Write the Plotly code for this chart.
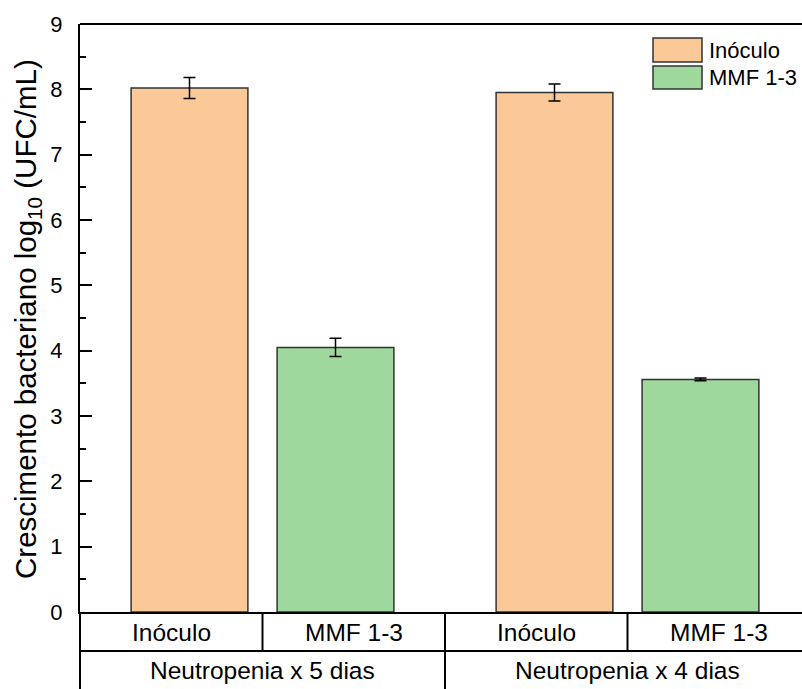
import plotly.graph_objects as go

groups = ["Neutropenia x 5 dias", "Neutropenia x 4 dias"]
series_names = ["Inóculo", "MMF 1-3"]
inoculo_vals = [8.02, 7.95]
inoculo_err = [0.16, 0.13]
mmf_vals = [4.05, 3.56]
mmf_err = [0.14, 0.02]
colors = ["#FBC898", "#9ED89C"]
yticks = [0, 1, 2, 3, 4, 5, 6, 7, 8, 9]

FONT = "Arial, Liberation Sans, sans-serif"
W, H = 802, 689
ML, MR, MT, MB = 80, 0, 24, 77
PW = W - ML - MR
PH = H - MT - MB
unit_px = 365.0
xr = [-0.5, -0.5 + PW / unit_px]

def px2py(py):
    return (H - MB - py) / PH

def px2px(px):
    return (px - ML) / PW

fig = go.Figure()
for name, vals, errs, col in [(series_names[0], inoculo_vals, inoculo_err, colors[0]),
                              (series_names[1], mmf_vals, mmf_err, colors[1])]:
    fig.add_trace(go.Bar(
        x=groups, y=vals, name=name, showlegend=False,
        marker=dict(color=col, line=dict(color="#333333", width=1.5)),
        error_y=dict(type="data", array=errs, visible=True, color="black",
                     thickness=1.5, width=6),
    ))

shapes = []
# top border
shapes.append(dict(type="line", xref="paper", yref="paper", x0=0, x1=1, y0=1, y1=1,
                   line=dict(color="black", width=2)))
row1 = px2py(651)
bottom = -0.2
# table lines
shapes.append(dict(type="line", xref="paper", yref="paper", x0=0, x1=1.02, y0=row1, y1=row1,
                   line=dict(color="black", width=2)))
shapes.append(dict(type="line", xref="paper", yref="paper", x0=0, x1=0, y0=0, y1=bottom,
                   line=dict(color="black", width=2)))
for gi in range(len(groups)):
    shapes.append(dict(type="line", xref="x", yref="paper", x0=gi, x1=gi, y0=0, y1=row1,
                       line=dict(color="black", width=2)))
    if gi > 0:
        shapes.append(dict(type="line", xref="x", yref="paper", x0=gi - 0.5, x1=gi - 0.5,
                           y0=0, y1=bottom, line=dict(color="black", width=2)))

annotations = []
for gi, g in enumerate(groups):
    for si, s in enumerate(series_names):
        annotations.append(dict(xref="x", yref="paper", x=gi - 0.25 + 0.5 * si,
                                y=px2py(632), text=s, showarrow=False,
                                font=dict(family=FONT, size=24.5, color="black"),
                                xanchor="center", yanchor="middle"))
    annotations.append(dict(xref="x", yref="paper", x=gi, y=px2py(670), text=g,
                            showarrow=False, font=dict(family=FONT, size=24.5, color="black"),
                            xanchor="center", yanchor="middle"))

# legend (manual)
leg_boxes = [(38, 62), (66, 89)]
for (y0, y1), s, col in zip(leg_boxes, series_names, colors):
    shapes.append(dict(type="rect", xref="paper", yref="paper",
                       x0=px2px(653), x1=px2px(702), y0=px2py(y1), y1=px2py(y0),
                       fillcolor=col, line=dict(color="#333333", width=1.5)))
    annotations.append(dict(xref="paper", yref="paper", x=px2px(707), y=px2py((y0 + y1) / 2),
                            text=s, showarrow=False, xanchor="left", yanchor="middle",
                            font=dict(family=FONT, size=22, color="black")))

# y title
annotations.append(dict(xref="paper", yref="paper", x=px2px(27), y=px2py(319),
                        text="Crescimento bacteriano log<sub>10</sub> (UFC/mL)",
                        textangle=-90, showarrow=False, xanchor="center", yanchor="middle",
                        font=dict(family=FONT, size=29.5, color="black")))

fig.update_layout(
    width=W, height=H, margin=dict(l=ML, r=MR, t=MT, b=MB),
    paper_bgcolor="white", plot_bgcolor="white",
    barmode="group", bargap=0.2, bargroupgap=0.2,
    shapes=shapes, annotations=annotations,
    font=dict(family=FONT, color="black"),
)
fig.update_xaxes(range=xr, showticklabels=False, ticks="", showline=True,
                 linecolor="black", linewidth=2, showgrid=False, zeroline=False)
fig.update_yaxes(range=[0, 9], tickvals=yticks, ticks="inside", ticklen=12, tickwidth=2,
                 tickcolor="black", showline=True, linecolor="black", linewidth=2,
                 showgrid=False, zeroline=False, tickfont=dict(family=FONT, size=22),
                 ticklabelstandoff=11,
                 minor=dict(ticks="inside", dtick=0.5, ticklen=6, tickwidth=2,
                            tickcolor="black"))

fig.write_html("out.html")
